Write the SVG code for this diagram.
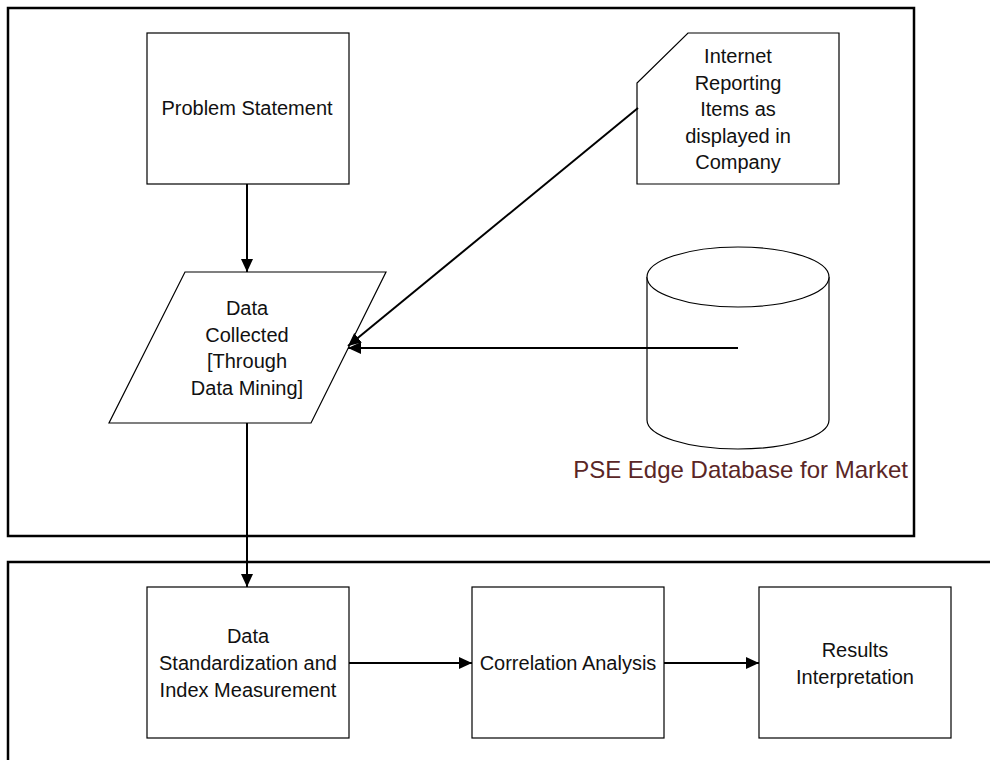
<svg xmlns="http://www.w3.org/2000/svg" width="990" height="760" viewBox="0 0 990 760">
<defs>
<marker id="arr" markerUnits="userSpaceOnUse" markerWidth="14" markerHeight="14" viewBox="0 0 14 14" refX="13" refY="7" orient="auto">
<path d="M0,1 L13,7 L0,13 Z" fill="#000"/>
</marker>
<style>
.frame{fill:none;stroke:#000;stroke-width:2.5}
.node{fill:#fff;stroke:#000;stroke-width:1.2}
.conn{fill:none;stroke:#000;stroke-width:2;marker-end:url(#arr)}
.t{font-family:"Liberation Sans",Arial,sans-serif;font-size:20px;fill:#111;text-anchor:middle}
.lbl{font-family:"Liberation Sans",Arial,sans-serif;font-size:24px;fill:#5a2626;text-anchor:end}
</style>
</defs>
<rect width="990" height="760" fill="#fff"/>
<g id="frames">
<rect class="frame" x="8" y="8" width="906" height="528"/>
<rect class="frame" x="8" y="562" width="1000" height="220"/>
</g>
<g id="problem">
<rect class="node" x="147" y="33" width="202" height="151"/>
<text class="t" x="247" y="115">Problem Statement</text>
</g>
<g id="internet">
<polygon class="node" points="688,33 839,33 839,184 637,184 637,83"/>
<text class="t" x="738" y="63">Internet</text>
<text class="t" x="738" y="89.5">Reporting</text>
<text class="t" x="738" y="116">Items as</text>
<text class="t" x="738" y="142.5">displayed in</text>
<text class="t" x="738" y="169">Company</text>
</g>
<g id="data">
<polygon class="node" points="185,272 386,272 311,423 109,423"/>
<text class="t" x="247" y="315">Data</text>
<text class="t" x="247" y="341.7">Collected</text>
<text class="t" x="247" y="368.3">[Through</text>
<text class="t" x="247" y="395">Data Mining]</text>
</g>
<g id="database">
<path class="node" d="M647,277 L647,420 A91,29 0 0 0 829,420 L829,277" stroke-width="1.5"/>
<ellipse class="node" cx="738" cy="277" rx="91" ry="30" stroke-width="1.5"/>
<text class="lbl" x="908" y="478">PSE Edge Database for Market</text>
</g>
<g id="standardization">
<rect class="node" x="147" y="587" width="202" height="151"/>
<text class="t" x="248" y="643">Data</text>
<text class="t" x="248" y="670">Standardization and</text>
<text class="t" x="248" y="697">Index Measurement</text>
</g>
<g id="correlation">
<rect class="node" x="472" y="587" width="192" height="151"/>
<text class="t" x="568" y="670">Correlation Analysis</text>
</g>
<g id="results">
<rect class="node" x="759" y="587" width="192" height="151"/>
<text class="t" x="855" y="657">Results</text>
<text class="t" x="855" y="684">Interpretation</text>
</g>
<g id="connectors">
<line class="conn" x1="247" y1="184" x2="247" y2="272"/>
<line class="conn" x1="638" y1="108" x2="348" y2="346"/>
<line class="conn" x1="738" y1="348" x2="348" y2="348"/>
<line class="conn" x1="247" y1="423" x2="247" y2="587"/>
<line class="conn" x1="349" y1="663" x2="472" y2="663"/>
<line class="conn" x1="664" y1="663" x2="759" y2="663"/>
</g>
</svg>
